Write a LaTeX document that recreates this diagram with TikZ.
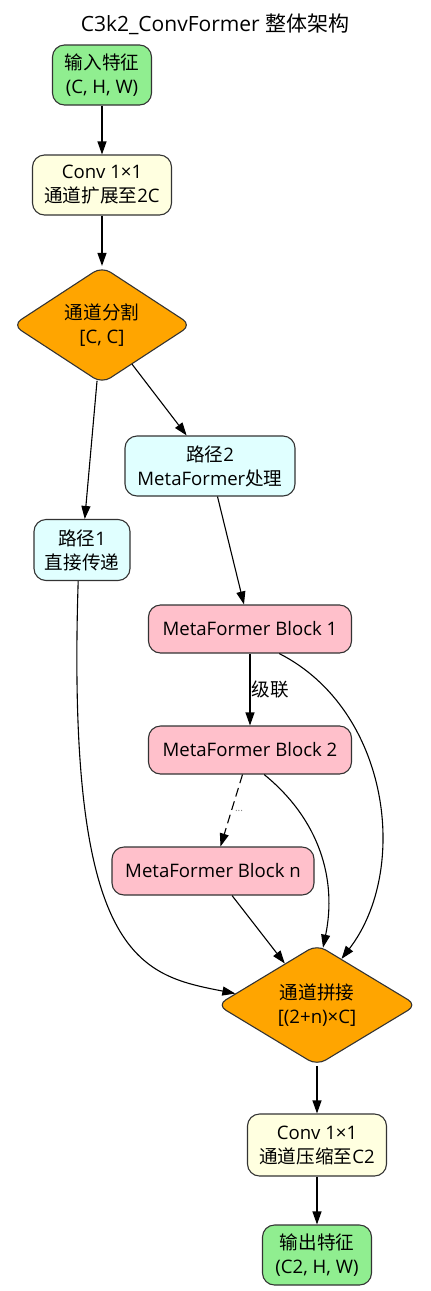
\documentclass[tikz,border=0pt]{standalone}
\usepackage{fontspec}
\setmainfont{Open Sans}
\newfontfamily\cjk{Noto Sans CJK SC}
\usetikzlibrary{shapes.geometric,arrows.meta}
\definecolor{bordergray}{HTML}{333333}
\definecolor{cgreen}{HTML}{90EE90}
\definecolor{cyellow}{HTML}{FFFFE0}
\definecolor{corange}{HTML}{FFA500}
\definecolor{ccyan}{HTML}{E0FFFF}
\definecolor{cpink}{HTML}{FFC0CB}
\newcommand\mynodefont{\fontsize{18.6pt}{24pt}\selectfont}
\newcommand\mytitlefont{\fontsize{21pt}{26pt}\selectfont}
\begin{document}
\begin{tikzpicture}[x=1pt,y=-1pt,
  box/.style={draw=bordergray, line width=1.1pt, rounded corners=12pt, align=center, inner sep=0pt, font=\mynodefont},
  dia/.style={draw=bordergray, line width=1.1pt, diamond, rounded corners=10pt, align=center, inner sep=0pt, fill=corange, font=\mynodefont},
  arr/.style={-{Triangle[length=13pt,width=9pt]}, line width=1.1pt, black},
  lbl/.style={font=\mynodefont, inner sep=1pt}
]
\useasboundingbox (0,0) rectangle (431,1291);
\node[font=\mytitlefont] (title) at (215,24) {C3k2\_ConvFormer {\cjk 整体架构}};

\node[box, fill=cgreen, minimum width=99pt, minimum height=60pt] (in) at (102,75) {{\cjk 输入特征}\\(C, H, W)};
\node[box, fill=cyellow, minimum width=139pt, minimum height=60pt] (conv1) at (102,185) {Conv 1×1\\{\cjk 通道扩展至}2C};
\node[dia, minimum width=179pt, minimum height=110pt] (split) at (102,325) {{\cjk 通道分割}\\{[C, C]}};
\node[box, fill=ccyan, minimum width=170pt, minimum height=60pt] (p2) at (210,466) {{\cjk 路径}2\\MetaFormer{\cjk 处理}};
\node[box, fill=ccyan, minimum width=96pt, minimum height=61pt] (p1) at (82,550) {{\cjk 路径}1\\{\cjk 直接传递}};
\node[box, fill=cpink, minimum width=203pt, minimum height=48pt] (b1) at (250,629) {MetaFormer Block 1};
\node[box, fill=cpink, minimum width=203pt, minimum height=48pt] (b2) at (250,750) {MetaFormer Block 2};
\node[box, fill=cpink, minimum width=202pt, minimum height=48pt] (bn) at (213,871) {MetaFormer Block n};
\node[dia, minimum width=200pt, minimum height=112pt] (cat) at (317,1005) {{\cjk 通道拼接}\\{[(2+n)×C]}};
\node[box, fill=cyellow, minimum width=139pt, minimum height=62pt] (conv2) at (317,1145) {Conv 1×1\\{\cjk 通道压缩至}C2};
\node[box, fill=cgreen, minimum width=109pt, minimum height=60pt] (out) at (317,1255) {{\cjk 输出特征}\\(C2, H, W)};

\draw[arr] (in) -- (conv1);
\draw[arr] (conv1) -- (split);
\draw[arr] (split) -- (p1);
\draw[arr] (split) -- (p2);
\draw[arr] (p2) -- (b1);
\draw[arr] (b1) -- node[lbl, anchor=west] {\cjk 级联} (b2);
\draw[arr, dash pattern=on 9pt off 5pt] (b2) -- node[anchor=west, inner sep=3pt, font=\fontsize{10pt}{12pt}\selectfont, text=gray] {...} (bn);
\draw[arr] (bn) -- (cat);
\draw[arr] (p1.-97) .. controls (66,960) and (140,975) .. (cat.172);
\draw[arr] (b1.-40) .. controls (390,710) and (410,870) .. (cat.62);
\draw[arr] (b2.-60) .. controls (320,820) and (337,880) .. (cat.84);
\draw[arr] (cat) -- (conv2);
\draw[arr] (conv2) -- (out);
\end{tikzpicture}
\end{document}
